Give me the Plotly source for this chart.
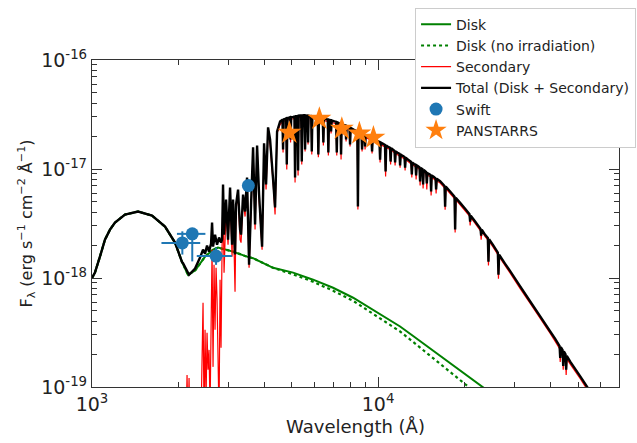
import plotly.graph_objects as go

# ---------------- data (wavelength in Angstrom, flux in 1e-18 erg/s/cm2/A) ----------------
wave_disk = [1000, 1024, 1066, 1110, 1156, 1203, 1304, 1449, 1621, 1800, 1951, 2064, 2166,
             2292, 2484, 2649, 2758, 3112, 3483, 3656, 4295, 5045, 5926, 6960, 8177, 9605,
             11938, 13258, 15570, 18290, 21490, 23100, 24640]
flux_disk = [1.0, 1.12, 1.57, 2.25, 2.78, 3.22, 3.82, 4.07, 3.74, 2.96, 2.11, 1.40, 1.07,
             1.17, 1.57, 1.82, 1.90, 1.745, 1.57, 1.52, 1.24, 1.12, 0.965, 0.814, 0.659, 0.511,
             0.359, 0.294, 0.215, 0.158, 0.1155, 0.1, 0.089]

wave_disk_noirr = [1000, 1024, 1066, 1110, 1156, 1203, 1304, 1449, 1621, 1800, 1951, 2064, 2166,
                   2292, 2484, 2649, 2758, 3112, 3483, 3656, 4295, 5045, 5926, 6960, 8177, 9605,
                   11938, 13258, 15570, 18290, 20640, 22010]
flux_disk_noirr = [1.0, 1.12, 1.57, 2.25, 2.78, 3.22, 3.82, 4.07, 3.74, 2.96, 2.11, 1.40, 1.07,
                   1.17, 1.57, 1.82, 1.90, 1.745, 1.57, 1.52, 1.24, 1.08, 0.925, 0.764, 0.618, 0.470,
                   0.323, 0.259, 0.184, 0.131, 0.101, 0.088]

# secondary star, ultraviolet part (only secondary)
wave_sec_uv = [2081, 2131, 2149, 2166, 2184, 2201, 2310, 2367, 2405, 2444, 2464, 2484, 2504,
               2524, 2544, 2565, 2586, 2628, 2649, 2670, 2692, 2714, 2736, 2780, 2803, 2825]
flux_sec_uv = [0.0524, 0.043, 0.129, 0.043, 0.121, 0.0345, 0.043, 0.076, 0.0524, 0.593, 0.0524,
               0.335, 0.076, 0.314, 0.144, 0.219, 0.062, 1.82, 0.153, 1.325, 0.335, 1.24, 0.632,
               0.0524, 0.965, 0.229]

# total, ultraviolet part
wave_tot_uv = [1000, 1024, 1066, 1110, 1156, 1203, 1304, 1449, 1621, 1800, 1951, 2064, 2081,
               2184, 2292, 2386, 2444, 2484, 2524, 2565, 2607, 2628, 2649, 2692, 2736, 2780, 2825]
flux_tot_uv = [1.0, 1.12, 1.57, 2.25, 2.78, 3.22, 3.82, 4.07, 3.74, 2.96, 2.11, 1.40, 1.37,
               1.07, 1.22, 1.54, 1.82, 1.67, 1.98, 1.745, 2.07, 3.22, 1.94, 2.50, 2.02, 2.35, 2.11]

# shared wavelength grid for the optical / infrared spectrum
wave_spec = [
    2848, 2871, 2894, 2941, 2989, 3038, 3087, 3112, 3162, 3188,
    3240, 3292, 3319, 3373, 3428, 3483, 3540, 3597, 3656, 3715,
    3776, 3837, 3931, 3994, 4059, 4125, 4192, 4295, 4364, 4435,
    4544,
    4631, 4654, 4677, 4730, 4771, 4795, 4819, 4885, 4920, 4944,
    4969, 5044, 5100, 5126, 5152, 5189, 5226, 5252, 5278, 5337,
    5383, 5410, 5437, 5481, 5528, 5556, 5584, 5663, 5691, 5719,
    5835, 5864, 5893, 6021, 6152, 6183, 6214, 6294, 6405, 6437,
    6469, 6552, 6668, 6701, 6735, 6815, 6849, 6883, 6988, 7134,
    7170, 7206, 7304, 7386, 7423, 7460, 7574, 7690, 7728, 7767,
    7940, 7980, 8020, 8209, 8458, 8500, 8542, 8649, 8746, 8790,
    8834, 8960, 9005, 9050, 9261, 9478, 9526, 9574, 9840, 10111,
    10162, 10213, 10410, 10570, 10623, 10676, 10839, 11004, 11059, 11114,
    11410, 11467, 11524, 11700, 11878, 11938, 11998, 12181, 12366, 12428,
    12490, 12733, 13051, 13117, 13183, 13362, 13511, 13579, 13647, 13800,
    13953, 14023, 14093, 14294, 14366, 14438, 14726, 14800, 14874, 15078,
    15245, 15322, 15399, 15634, 15871, 15951, 16031, 16473, 17065, 17151,
    17237, 17855, 18497, 18590, 18683, 19353, 20147, 20871, 20976, 21081,
    21838, 22804, 22919, 23034, 23664, 24184, 24306, 24428, 25236, 26215,
    26347, 26479, 27800, 28950, 31377, 34010, 36862, 39954, 41597, 43090,
    43307, 43524, 44144, 44366, 44588, 45199, 45426, 45653, 46940, 50877,
    55145, 59771]

flux_tot_spec = [
    2.25, 7.20, 2.50, 5.24, 2.25, 6.76, 2.02, 5.24, 1.64, 4.72,
    6.48, 2.78, 2.50, 5.83, 4.07, 8.35, 1.325, 4.72, 15.8, 3.09,
    16.4, 5.83, 1.94, 17.2, 7.20, 24.1, 18.7, 8.01, 4.43, 22.1,
    27.3,
    28.3, 15.1, 28.5, 28.8, 29.1, 11.0, 29.2, 29.6, 29.8, 18.7,
    29.9, 30.1, 30.3, 8.35, 30.5, 30.6, 30.7, 9.69, 30.9, 31.0,
    31.0, 11.7, 31.0, 31.1, 31.0, 15.1, 31.0, 30.8, 17.5, 30.8,
    30.5, 14.5, 30.5, 30.2, 29.9, 13.6, 29.9, 29.6, 29.2, 17.5,
    29.1, 28.8, 28.4, 14.2, 28.3, 28.0, 22.1, 27.9, 27.5, 27.0,
    14.2, 26.8, 26.4, 26.1, 13.6, 25.9, 25.4, 25.0, 18.7, 24.8,
    24.0, 16.8, 23.8, 23.0, 22.1, 4.52, 21.9, 21.5, 21.2, 15.1,
    21.0, 20.5, 16.1, 20.3, 19.7, 19.1, 14.5, 18.9, 18.3, 17.7,
    12.2, 17.5, 17.0, 16.6, 9.48, 16.4, 16.0, 15.7, 11.7, 15.5,
    14.7, 11.5, 14.5, 14.1, 13.8, 10.8, 13.6, 13.2, 12.9, 10.3,
    12.7, 12.2, 11.6, 8.90, 11.4, 11.1, 10.95, 8.71, 10.8, 10.6,
    10.35, 7.67, 10.2, 9.95, 7.20, 9.80, 9.35, 7.36, 9.15, 8.98,
    8.82, 6.21, 8.72, 8.48, 8.22, 6.48, 8.12, 7.73, 6.99, 4.52,
    6.91, 6.21, 5.58, 2.78, 5.46, 4.89, 4.31, 3.84, 3.29, 3.73,
    3.30, 2.82, 2.45, 2.78, 2.49, 2.33, 1.41, 2.27, 2.00, 1.71,
    1.07, 1.64, 1.35, 1.155, 0.837, 0.609, 0.444, 0.323, 0.276, 0.237,
    0.185, 0.232, 0.218, 0.156, 0.213, 0.199, 0.144, 0.193, 0.171, 0.125,
    0.0908, 0.066]

flux_sec_spec = [
    1.82, 6.48, 1.12, 4.24, 2.02, 5.83, 1.57, 4.72, 0.748, 4.24,
    5.95, 2.25, 2.11, 5.24, 3.66, 7.51, 1.24, 4.24, 15.1, 2.78,
    15.8, 5.24, 1.82, 16.4, 6.48, 23.1, 16.8, 7.51, 3.82, 21.2,
    25.6,
    27.2, 14.2, 27.4, 27.6, 27.9, 9.89, 28.0, 28.4, 28.6, 17.5,
    28.7, 28.9, 29.1, 7.51, 29.3, 29.4, 29.5, 8.71, 29.7, 29.8,
    29.8, 11.0, 29.8, 29.9, 29.8, 14.5, 29.8, 29.6, 16.8, 29.6,
    29.3, 13.6, 29.3, 29.0, 28.7, 12.8, 28.7, 28.4, 28.0, 16.4,
    27.9, 27.6, 27.3, 13.3, 27.2, 26.9, 21.2, 26.8, 26.4, 25.9,
    13.3, 25.7, 25.3, 25.0, 12.2, 24.9, 24.4, 24.0, 17.9, 23.8,
    23.0, 16.1, 22.8, 22.1, 21.2, 4.24, 21.0, 20.6, 20.4, 14.5,
    20.2, 19.7, 15.1, 19.5, 18.9, 18.3, 13.9, 18.1, 17.6, 17.0,
    11.5, 16.8, 16.3, 15.9, 8.53, 15.7, 15.4, 15.1, 11.0, 14.9,
    14.1, 10.8, 13.9, 13.5, 13.2, 10.3, 13.1, 12.7, 12.4, 9.69,
    12.2, 11.7, 11.1, 8.35, 10.9, 10.7, 10.5, 8.01, 10.4, 10.2,
    9.94, 7.05, 9.8, 9.55, 6.62, 9.41, 8.98, 6.48, 8.78, 8.62,
    8.47, 5.71, 8.37, 8.14, 7.89, 5.95, 7.80, 7.42, 6.71, 4.24,
    6.63, 5.96, 5.36, 2.61, 5.24, 4.69, 4.14, 3.69, 3.03, 3.58,
    3.17, 2.70, 2.25, 2.67, 2.39, 2.24, 1.30, 2.18, 1.92, 1.64,
    0.985, 1.57, 1.30, 1.11, 0.80, 0.585, 0.426, 0.31, 0.262, 0.225,
    0.170, 0.220, 0.205, 0.144, 0.200, 0.187, 0.129, 0.181, 0.162, 0.119,
    0.086, 0.062]

# photometry
swift_wave = [2069, 2241, 2714, 3520]
swift_wave_err_minus = [320, 260, 390, 0]
swift_wave_err_plus = [320, 250, 370, 0]
swift_flux = [2.10, 2.54, 1.59, 7.05]
swift_flux_err_minus = [0.46, 1.12, 0.27, 0]
swift_flux_err_plus = [0.58, 0.30, 0.31, 0]

ps_wave = [4897, 6233, 7467, 8602, 9630]
ps_flux = [21.5, 28.9, 23.4, 21.2, 19.4]

UNIT = 1e-18
assert len(wave_spec) == len(flux_tot_spec) == len(flux_sec_spec)


def scale(vals):
    return [v * UNIT for v in vals]


wave_secondary = wave_sec_uv + wave_spec
flux_secondary = flux_sec_uv + flux_sec_spec
wave_total = wave_tot_uv + wave_spec
flux_total = flux_tot_uv + flux_tot_spec

# ---------------- figure ----------------
fig = go.Figure()
fig.add_trace(go.Scatter(x=wave_disk, y=scale(flux_disk), mode="lines", name="Disk",
                         line=dict(color="#008000", width=2)))
fig.add_trace(go.Scatter(x=wave_disk_noirr, y=scale(flux_disk_noirr), mode="lines",
                         name="Disk (no irradiation)",
                         line=dict(color="#008000", width=2.2, dash="dot")))
fig.add_trace(go.Scatter(x=wave_secondary, y=scale(flux_secondary), mode="lines",
                         name="Secondary",
                         line=dict(color="#ff0000", width=1.2, simplify=False)))
fig.add_trace(go.Scatter(x=wave_total, y=scale(flux_total), mode="lines",
                         name="Total (Disk + Secondary)",
                         line=dict(color="#000000", width=2.4, simplify=False)))
fig.add_trace(go.Scatter(
    x=swift_wave, y=scale(swift_flux), mode="markers", name="Swift",
    marker=dict(color="#1f77b4", size=13, symbol="circle"),
    error_x=dict(type="data", symmetric=False, array=swift_wave_err_plus,
                 arrayminus=swift_wave_err_minus, color="#1f77b4", thickness=2, width=0),
    error_y=dict(type="data", symmetric=False, array=scale(swift_flux_err_plus),
                 arrayminus=scale(swift_flux_err_minus), color="#1f77b4", thickness=2, width=0)))
fig.add_trace(go.Scatter(x=ps_wave, y=scale(ps_flux), mode="markers", name="PANSTARRS",
                         marker=dict(color="#ff7f0e", size=18, symbol="star",
                                     line=dict(width=0))))

axis_font = dict(family="DejaVu Sans", size=19, color="#222222")
fig.update_layout(
    width=637, height=443,
    margin=dict(l=92, r=18, t=60, b=56, autoexpand=False),
    paper_bgcolor="white", plot_bgcolor="white",
    font=dict(family="DejaVu Sans", color="#222222"),
    showlegend=True,
    legend=dict(x=0.613, y=1.16, xanchor="left", yanchor="top",
                bgcolor="white", bordercolor="#cccccc", borderwidth=1,
                font=dict(family="DejaVu Sans", size=14, color="#222222"),
                tracegroupgap=0, itemwidth=30),
    xaxis=dict(type="log", range=[3, 4.842], showgrid=False, zeroline=False,
               showline=True, linecolor="#333333", linewidth=1.3, mirror="ticks",
               ticks="inside", ticklen=10, tickwidth=1.3, tickcolor="#333333",
               tickvals=[1000, 10000], ticktext=["10<sup>3</sup>", "10<sup>4</sup>"],
               tickfont=axis_font,
               minor=dict(ticks="inside", ticklen=5, tickwidth=1, tickcolor="#333333",
                          tickvals=[2000, 3000, 4000, 5000, 6000, 7000, 8000, 9000,
                                    20000, 30000, 40000, 50000, 60000]),
               title=dict(text="Wavelength (Å)", font=dict(family="DejaVu Sans", size=18),
                          standoff=6)),
    yaxis=dict(type="log", range=[-19, -16], showgrid=False, zeroline=False,
               showline=True, linecolor="#333333", linewidth=1.3, mirror="ticks",
               ticks="inside", ticklen=10, tickwidth=1.3, tickcolor="#333333",
               tickvals=[1e-19, 1e-18, 1e-17, 1e-16],
               ticktext=["10<sup>-19</sup>", "10<sup>-18</sup>", "10<sup>-17</sup>",
                         "10<sup>-16</sup>"],
               tickfont=axis_font,
               minor=dict(ticks="inside", ticklen=5, tickwidth=1, tickcolor="#333333",
                          tickvals=[m * 10.0 ** e for e in (-19, -18, -17)
                                    for m in (2, 3, 4, 5, 6, 7, 8, 9)]),
               title=dict(text="F<sub>λ</sub> (erg s<sup>−1</sup> cm<sup>−2</sup> Å<sup>−1</sup>)",
                          font=dict(family="DejaVu Sans", size=16), standoff=4)),
)

fig.write_html("out.html")
